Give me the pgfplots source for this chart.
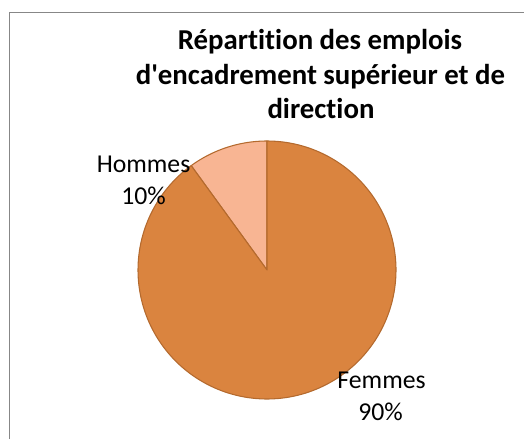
\documentclass[border=0pt]{standalone}
\usepackage{fontspec}
\setmainfont{Carlito}[Ligatures=NoCommon]
\usepackage{pgfplots}
\usepackage{pgfplotstable}
\pgfplotsset{compat=1.18}

\definecolor{femmes}{HTML}{DA843F}
\definecolor{hommes}{HTML}{F8B593}
\definecolor{edge}{HTML}{B46A2E}
\definecolor{frame}{HTML}{878787}

% shares in percent, in the order Excel draws them (clockwise from 12 o'clock)
\pgfplotstableread{
label share
Hommes 10
Femmes 90
}\pietable

\begin{document}
% 1 unit = 1 px of the 524x439 reference, origin bottom-left
\begin{tikzpicture}[x=0.75pt,y=0.75pt,
  slicelabel/.style={anchor=base, font=\fontsize{19.3}{23}\selectfont}]
\useasboundingbox (0,0) rectangle (524,439);
\draw[frame, line width=1.2pt] (9.5,0) -- (9.5,426.5) -- (524,426.5);

% title
\begin{scope}[every node/.style={anchor=base, font=\fontsize{21.6}{25}\selectfont\bfseries}]
\node at (320,389) {Répartition des emplois};
\node at (320.5,354.5) {d\textquotesingle encadrement supérieur et de};
\node at (321,320.5) {direction};
\end{scope}

\pgfplotstablegetelem{0}{share}\of\pietable \let\shareH\pgfplotsretval
\pgfplotstablegetelem{1}{share}\of\pietable \let\shareF\pgfplotsretval
\pgfmathsetmacro\aH{90+3.6*\shareH}
\pgfmathsetmacro\aF{\aH+3.6*\shareF}

\begin{axis}[
  at={(200.25pt,126.75pt)}, anchor=center,
  scale only axis, width=193.5pt, height=193.5pt,
  xmin=-1, xmax=1, ymin=-1, ymax=1,
  hide axis, clip=false,
  every axis plot/.append style={line width=0.8pt, draw=edge, line join=round},
]
\addplot[fill=hommes, domain=90:\aH, samples=40] ({cos(x)},{sin(x)}) -- (axis cs:0,0) -- cycle;
\addplot[fill=femmes, domain=\aH:\aF, samples=180] ({cos(x)},{sin(x)}) -- (axis cs:0,0) -- cycle;
\node[slicelabel] at (axis cs:-0.957,0.752) {Hommes};
\node[slicelabel] at (axis cs:-0.957,0.504) {10\%};
\node[slicelabel] at (axis cs:0.888,-0.915) {Femmes};
\node[slicelabel] at (axis cs:0.880,-1.163) {90\%};
\end{axis}
\end{tikzpicture}
\end{document}
